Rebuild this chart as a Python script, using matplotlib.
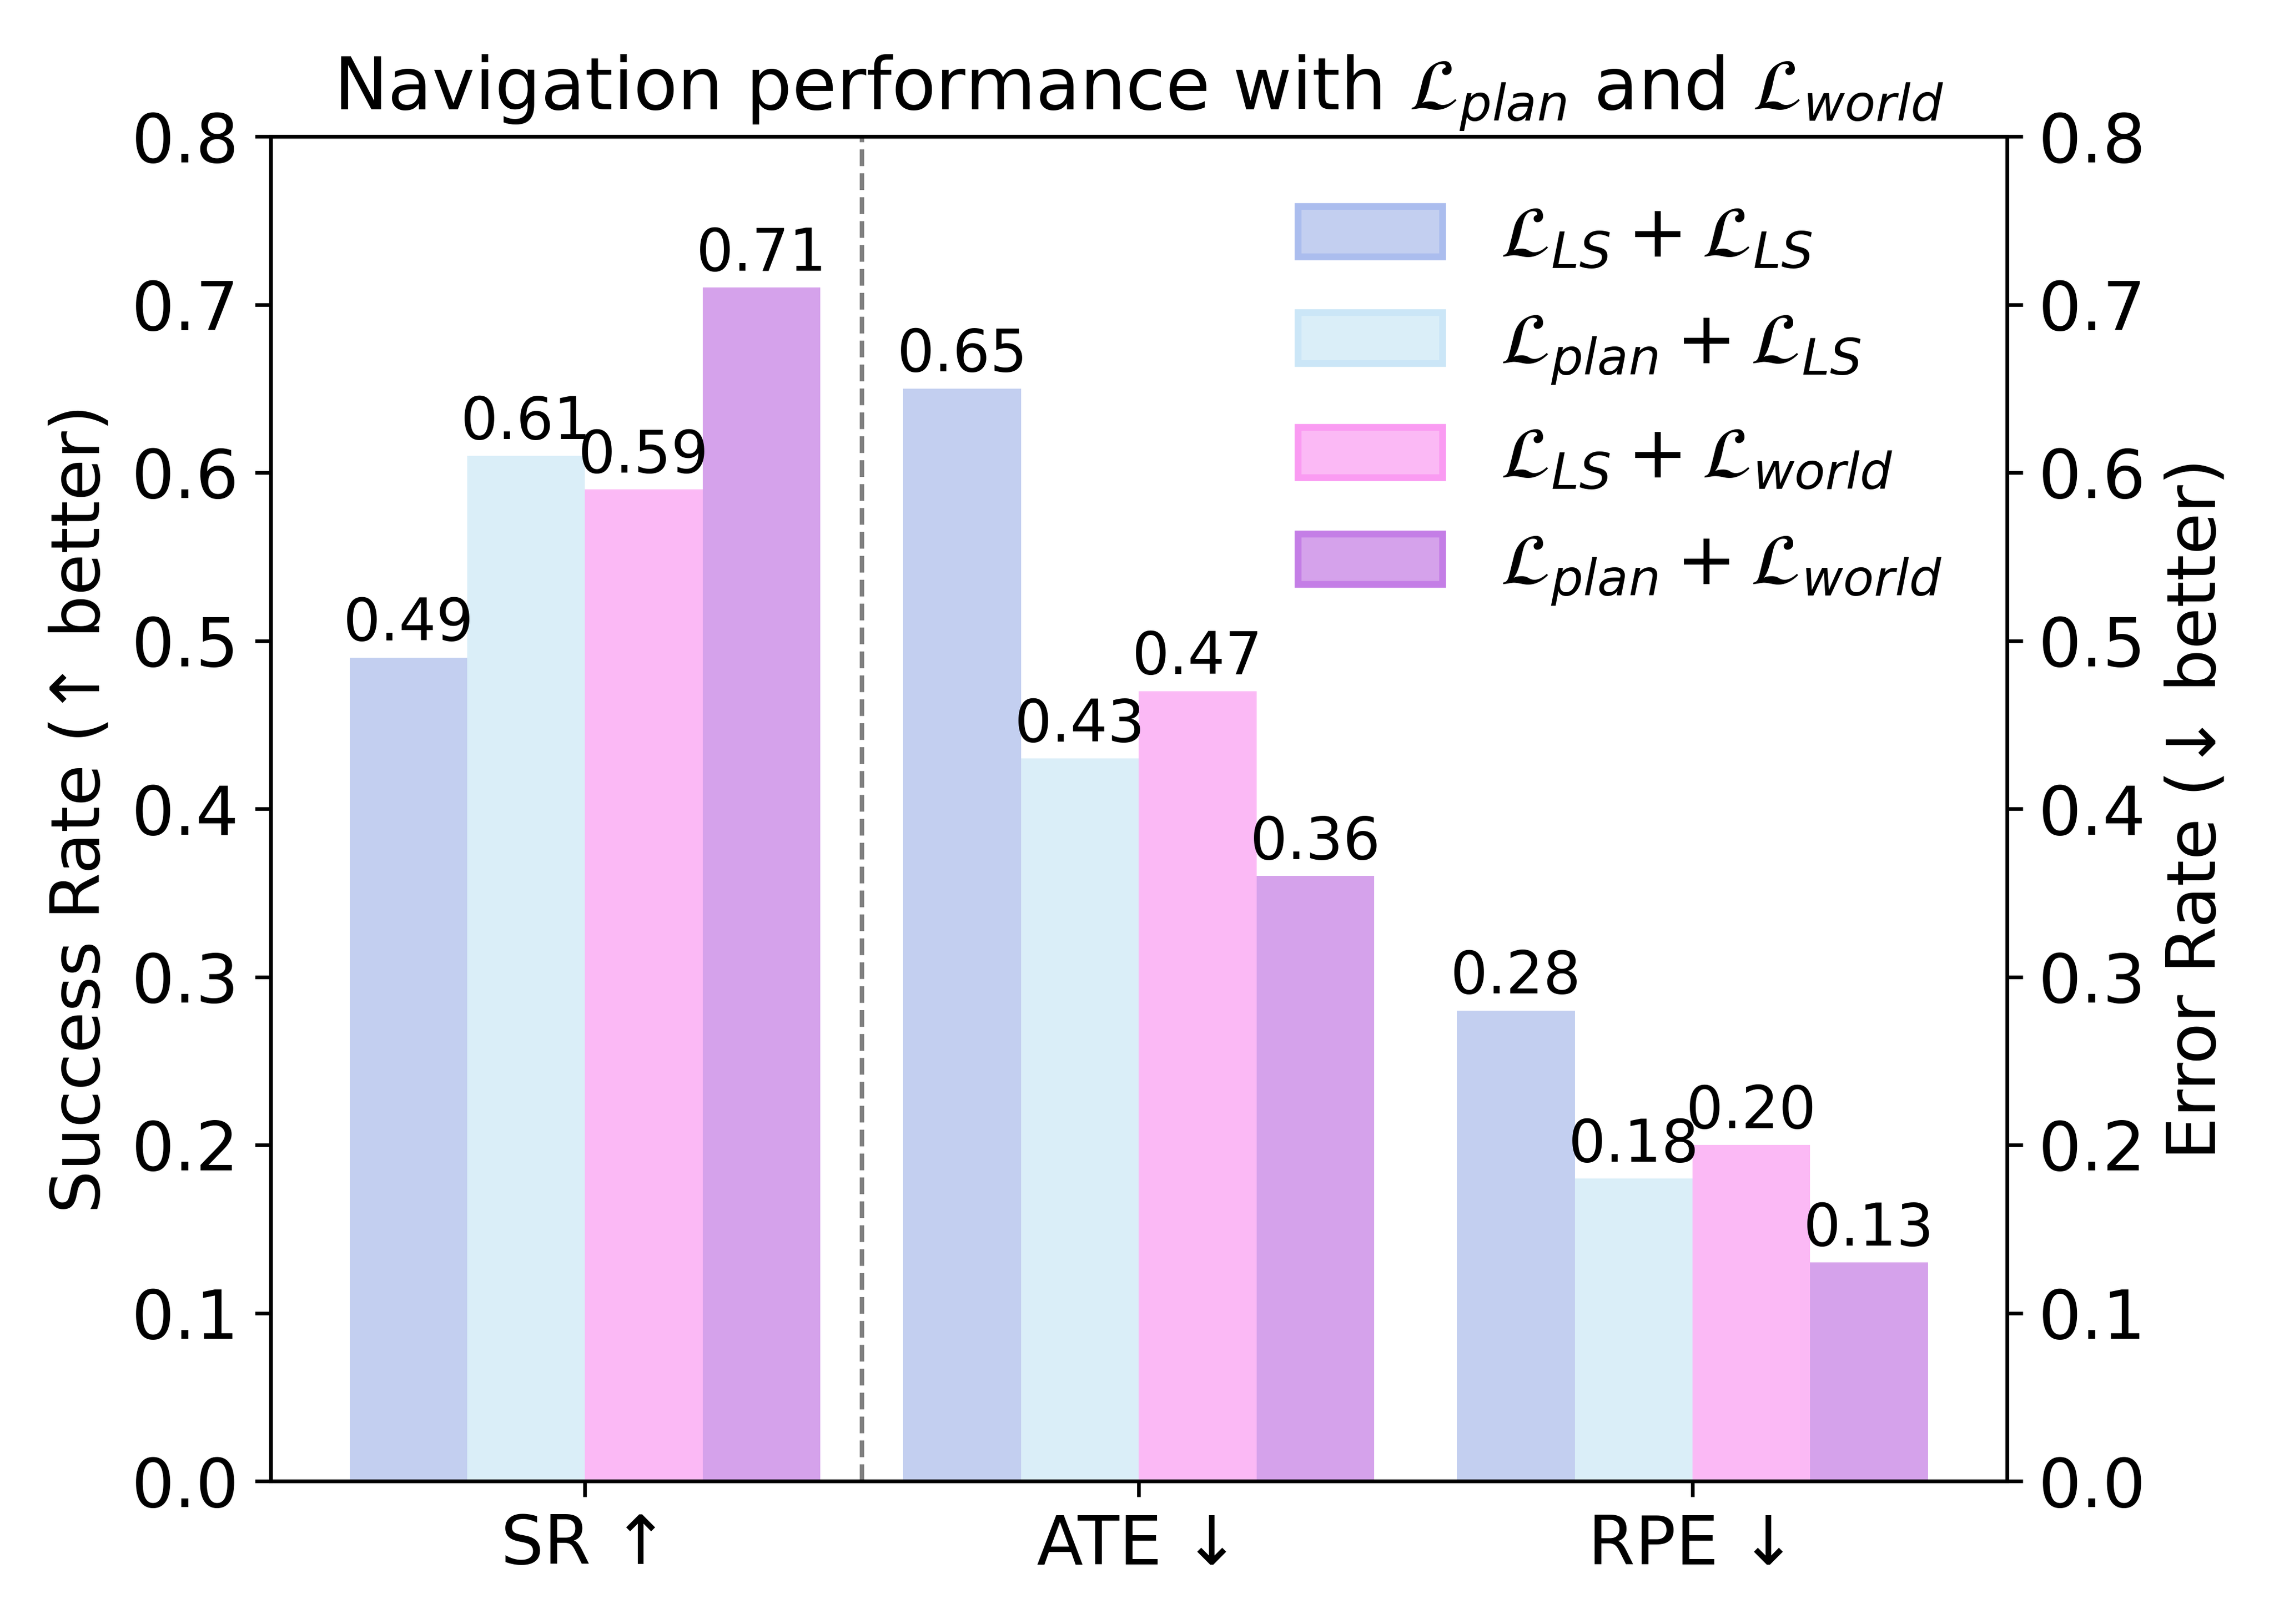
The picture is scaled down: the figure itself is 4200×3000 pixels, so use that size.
import numpy as np
import matplotlib
matplotlib.use('Agg')
import matplotlib.pyplot as plt
from matplotlib.patches import Patch

# metrics and series values
metrics = ['SR ↑', 'ATE ↓', 'RPE ↓']
labels = [r'$\mathcal{L}_{LS} + \mathcal{L}_{LS}$',
          r'$\mathcal{L}_{plan} + \mathcal{L}_{LS}$',
          r'$\mathcal{L}_{LS} + \mathcal{L}_{world}$',
          r'$\mathcal{L}_{plan} + \mathcal{L}_{world}$']
ls_ls = [0.49, 0.65, 0.28]
plan_ls = [0.61, 0.43, 0.18]
ls_world = [0.59, 0.47, 0.20]
plan_world = [0.71, 0.36, 0.13]

colors = ['#c3cff0', '#daeef8', '#fbb9f5', '#d5a2eb']
edges = ['#abbdee', '#cbe6f7', '#fa9bf2', '#c47ee6']

series = [ls_ls, plan_ls, ls_world, plan_world]
x = np.arange(len(metrics))
width = 0.85 / 4

fig, ax = plt.subplots(figsize=(7, 5))
fig.subplots_adjust(left=0.119, right=0.8825, bottom=0.088, top=0.916)

for i, vals in enumerate(series):
    offs = (i - 1.5) * width
    bars = ax.bar(x + offs, vals, width, color=colors[i], linewidth=0)
    ax.bar_label(bars, fmt='%.2f', padding=1, fontsize=13)

ax.axvline(0.5, color='gray', linestyle='--', linewidth=1)

ax.set_ylim(0, 0.8)
ax.set_xticks(x)
ax.set_xticklabels(metrics, fontsize=15)
ax.tick_params(axis='y', labelsize=15)
ax.set_ylabel('Success Rate (↑ better)', fontsize=15)
ax.set_title(r'Navigation performance with $\mathcal{L}_{plan}$ and $\mathcal{L}_{world}$', fontsize=16)

ax2 = ax.twinx()
ax2.set_ylim(0, 0.8)
ax2.tick_params(axis='y', labelsize=15)
ax2.set_ylabel('Error Rate (↓ better)', fontsize=15)

handles = [Patch(facecolor=colors[i], edgecolor=edges[i], linewidth=1.5) for i in range(4)]
ax2.legend(handles, labels, loc='upper right', frameon=False, fontsize=16)

fig.savefig('out.png', dpi=600)
